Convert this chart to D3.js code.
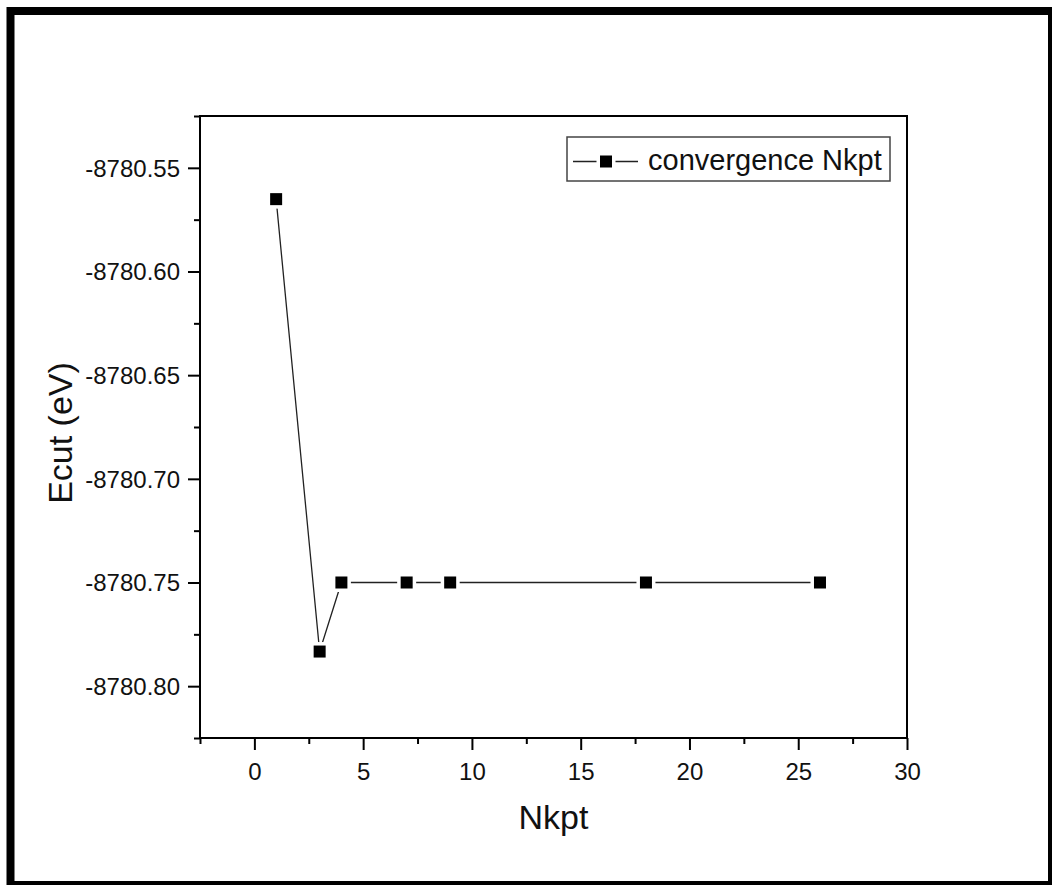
<!DOCTYPE html>
<html>
<head>
<meta charset="utf-8">
<script src="https://cdn.jsdelivr.net/npm/d3@7"></script>
<style>
  body { margin: 0; background: #fff; }
  svg text { font-family: 'Liberation Sans', Arial, sans-serif; fill: #111; }
</style>
</head>
<body>
<div id="graph"></div>
<script>
const width = 1052;
const height = 885;

// Data
const nkpt = [1, 3, 4, 7, 9, 18, 26];
const energy = [-8780.5651, -8780.7833, -8780.75, -8780.75, -8780.75, -8780.75, -8780.75];
const xTicks = [0, 5, 10, 15, 20, 25, 30];
const yTicks = [-8780.55, -8780.60, -8780.65, -8780.70, -8780.75, -8780.80];
const seriesName = 'convergence Nkpt';

const data = nkpt.map((n, i) => ({ n: n, e: energy[i] }));

const plot = { left: 200, right: 907, top: 116, bottom: 738 };

const svg = d3.select('#graph').append('svg')
  .attr('width', width)
  .attr('height', height);

// Outer frame
svg.append('rect')
  .attr('x', 10.5)
  .attr('y', 11)
  .attr('width', 1041.5)
  .attr('height', 874)
  .attr('fill', 'none')
  .attr('stroke', '#000')
  .attr('stroke-width', 8);

const x = d3.scaleLinear()
  .domain([-2.5, 30])
  .range([plot.left, plot.right]);

const y = d3.scaleLinear()
  .domain([-8780.825, -8780.525])
  .range([plot.bottom, plot.top]);

// Minor ticks
const xMinor = d3.range(-2.5, 30.01, 2.5).filter(v => Math.abs(v / 5 - Math.round(v / 5)) > 0.01);
const yMinor = d3.range(-8780.825, -8780.52, 0.025)
  .filter(v => Math.abs((v + 8780) / 0.05 - Math.round((v + 8780) / 0.05)) > 0.01);

svg.append('g')
  .attr('transform', `translate(0,${plot.bottom})`)
  .call(d3.axisBottom(x).tickValues(xMinor).tickSize(6).tickFormat(''))
  .call(g => g.select('.domain').remove())
  .selectAll('line').attr('stroke-width', 2);

svg.append('g')
  .attr('transform', `translate(${plot.left},0)`)
  .call(d3.axisLeft(y).tickValues(yMinor).tickSize(6).tickFormat(''))
  .call(g => g.select('.domain').remove())
  .selectAll('line').attr('stroke-width', 2);

// Major ticks and labels
const xAxis = svg.append('g')
  .attr('transform', `translate(0,${plot.bottom})`)
  .call(d3.axisBottom(x).tickValues(xTicks).tickSize(12).tickPadding(12).tickFormat(d3.format('d')));
xAxis.select('.domain').remove();
xAxis.selectAll('line').attr('stroke-width', 2);
xAxis.selectAll('text').attr('font-size', 24).attr('dy', 0).attr('y', 42)
  .style('font-family', "'Liberation Sans', Arial, sans-serif");

const yAxis = svg.append('g')
  .attr('transform', `translate(${plot.left},0)`)
  .call(d3.axisLeft(y).tickValues(yTicks).tickSize(12).tickPadding(8).tickFormat(d3.format('.2f')));
yAxis.select('.domain').remove();
yAxis.selectAll('line').attr('stroke-width', 2);
yAxis.selectAll('text').attr('font-size', 24).attr('dy', '0.35em')
  .style('font-family', "'Liberation Sans', Arial, sans-serif")
  .text(d => d3.format('.2f')(d).replace('−', '-'));

// Plot box
svg.append('rect')
  .attr('x', plot.left)
  .attr('y', plot.top)
  .attr('width', plot.right - plot.left)
  .attr('height', plot.bottom - plot.top)
  .attr('fill', 'none')
  .attr('stroke', '#000')
  .attr('stroke-width', 2);

// Line + markers
svg.append('path')
  .datum(data)
  .attr('fill', 'none')
  .attr('stroke', '#222')
  .attr('stroke-width', 1.3)
  .attr('d', d3.line().x(d => x(d.n)).y(d => y(d.e)));

svg.selectAll('.pt')
  .data(data)
  .enter()
  .append('rect')
    .classed('pt', true)
    .attr('x', d => x(d.n) - 6)
    .attr('y', d => y(d.e) - 6)
    .attr('width', 12)
    .attr('height', 12)
    .attr('fill', '#000')
    .attr('stroke', '#fff')
    .attr('stroke-width', 7)
    .style('paint-order', 'stroke');

// Axis titles
svg.append('text')
  .attr('x', (plot.left + plot.right) / 2)
  .attr('y', 829)
  .attr('text-anchor', 'middle')
  .attr('font-size', 34)
  .text('Nkpt');

svg.append('text')
  .attr('transform', `translate(72,${(plot.top + plot.bottom) / 2 + 6}) rotate(-90)`)
  .attr('text-anchor', 'middle')
  .attr('font-size', 34)
  .text('Ecut (eV)');

// Legend
const legend = svg.append('g');
legend.append('rect')
  .attr('x', 567)
  .attr('y', 137)
  .attr('width', 323)
  .attr('height', 44)
  .attr('fill', '#fff')
  .attr('stroke', '#444')
  .attr('stroke-width', 1.5);
legend.append('line')
  .attr('x1', 573).attr('x2', 638)
  .attr('y1', 161.5).attr('y2', 161.5)
  .attr('stroke', '#222')
  .attr('stroke-width', 1.3);
legend.append('rect')
  .attr('x', 600).attr('y', 155.5)
  .attr('width', 12).attr('height', 12)
  .attr('fill', '#000')
  .attr('stroke', '#fff')
  .attr('stroke-width', 7)
  .style('paint-order', 'stroke');
legend.append('text')
  .attr('x', 648)
  .attr('y', 170)
  .attr('font-size', 29)
  .text(seriesName);
</script>
</body>
</html>
